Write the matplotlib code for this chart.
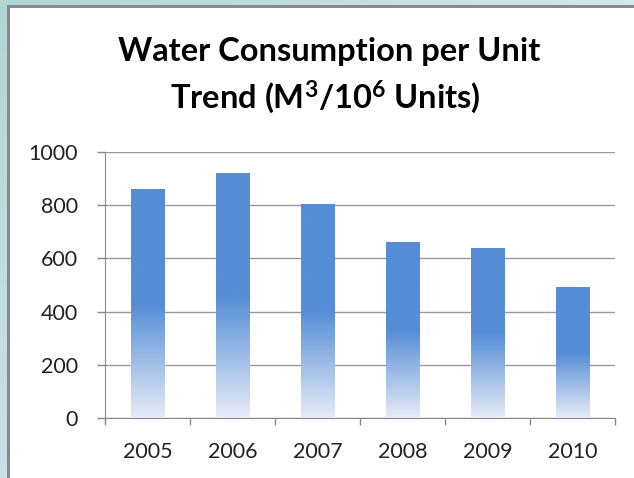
import numpy as np
import matplotlib
matplotlib.use("Agg")
import matplotlib.pyplot as plt
from matplotlib.colors import LinearSegmentedColormap
from matplotlib.patches import Rectangle

years = ["2005", "2006", "2007", "2008", "2009", "2010"]
values = [860, 920, 802, 660, 636, 490]
yticks = [0, 200, 400, 600, 800, 1000]
title_line1 = "Water Consumption per Unit"
title_line2 = "Trend (M$^3$/10$^6$ Units)"

plt.rcParams['font.family'] = ['Lato', 'DejaVu Sans']
plt.rcParams['mathtext.fontset'] = 'custom'
plt.rcParams['mathtext.rm'] = 'Lato:bold'
plt.rcParams['mathtext.it'] = 'Lato:bold'
plt.rcParams['mathtext.bf'] = 'Lato:bold'

W, H = 634, 478
fig = plt.figure(figsize=(W / 100, H / 100), dpi=100)

# background teal gradient
bg = fig.add_axes([0, 0, 1, 1], zorder=-10)
bg.set_axis_off()
gx = np.linspace(0, 1, 64)
gy = np.linspace(0, 1, 64)
GX, GY = np.meshgrid(gx, gy)
c_tl = np.array([0xB3, 0xD6, 0xD3]) / 255
c_tr = np.array([0xD4, 0xE6, 0xE8]) / 255
c_bl = np.array([0xCC, 0xE0, 0xE8]) / 255
c_br = np.array([0xDC, 0xEA, 0xF0]) / 255
img = ((1 - GX)[..., None] * (1 - GY)[..., None] * c_tl + GX[..., None] * (1 - GY)[..., None] * c_tr
       + (1 - GX)[..., None] * GY[..., None] * c_bl + GX[..., None] * GY[..., None] * c_br)
bg.imshow(img, extent=[0, 1, 0, 1], aspect='auto', origin='upper')
bg.set_xlim(0, 1)
bg.set_ylim(0, 1)
# gray border and white panel
bg.add_patch(Rectangle((7 / W, 0), 1, 1 - 5 / H, facecolor='#8a8a8a', edgecolor='none'))
bg.add_patch(Rectangle((9.5 / W, 0), 1, 1 - 7.5 / H, facecolor='white', edgecolor='none'))

ax = fig.add_axes([105 / W, 1 - 418 / H, (615 - 105) / W, (418 - 152) / H])
ax.set_facecolor('none')
x = np.arange(len(years))
bars = ax.bar(x, values, width=0.4, color='none', edgecolor='none', zorder=3)

cmap = LinearSegmentedColormap.from_list(
    'g', [(0.0, '#E6ECF7'), (0.5, '#558DD6'), (1.0, '#558DD6')])
grad = np.linspace(0, 1, 256).reshape(-1, 1)
for b in bars:
    x0, y0 = b.get_x(), b.get_y()
    w, h = b.get_width(), b.get_height()
    ax.imshow(grad, extent=[x0, x0 + w, y0, y0 + h], origin='lower',
              aspect='auto', cmap=cmap, zorder=3)

ax.set_xlim(-0.5, len(years) - 0.5)
ax.set_ylim(0, 1000)
ax.set_yticks(yticks)
ax.set_yticklabels([str(v) for v in yticks])
ax.yaxis.grid(True, color='#9a9a9a', linewidth=1.0, zorder=0)
ax.set_axisbelow(True)
ax.set_xticks(x)
ax.set_xticklabels(years)
ax.set_xticks(np.arange(len(years) + 1) - 0.5, minor=True)
ax.tick_params(axis='x', which='major', length=0, pad=17.5, labelsize=15.5, colors='#222222')
ax.tick_params(axis='x', which='minor', length=5, width=1, color='#8a8a8a')
ax.tick_params(axis='y', which='major', length=5.5, width=1, color='#8a8a8a', pad=14,
               labelsize=15.5, labelcolor='#222222')
for s in ['top', 'right']:
    ax.spines[s].set_visible(False)
ax.spines['left'].set_color('#8a8a8a')
ax.spines['bottom'].set_color('#8a8a8a')

fig.text(0.52, 1 - 51 / H, title_line1, ha='center', va='center',
         fontsize=23.5, fontweight='bold', color='black')
fig.text(0.513, 1 - 97 / H, title_line2, ha='center', va='center',
         fontsize=23.5, fontweight='bold', color='black')

fig.savefig('out.png', dpi=100)
